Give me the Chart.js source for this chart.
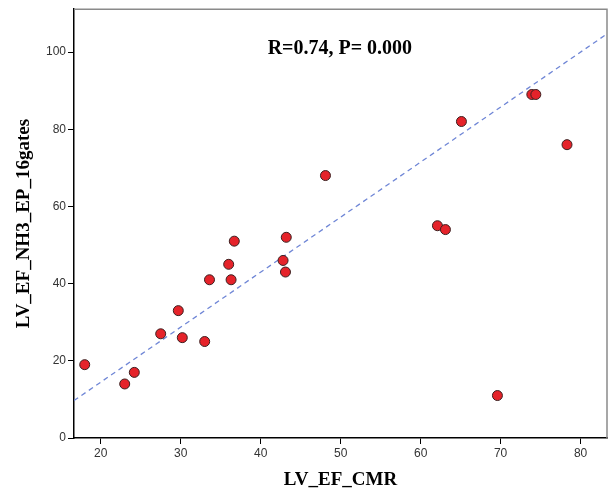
<!DOCTYPE html>
<html>
<head>
<meta charset="utf-8">
<script src="https://cdn.jsdelivr.net/npm/chart.js@4"></script>
<style>
  html, body { margin: 0; padding: 0; background: #fff; overflow: hidden; }
  /* canvas runs 3px past the window so the plot frame ends at x=607 */
  #wrap { width: 613px; height: 493px; position: relative; }
</style>
</head>
<body>
<div id="wrap"><canvas id="chart"></canvas></div>
<script>
// Data
const cmrEF = [18, 23, 24.2, 27.5, 29.7, 30.2, 33, 33.6, 36, 36.3, 36.7, 42.8, 43.1, 43.2,
               48.1, 62.1, 63.1, 65.1, 69.6, 73.9, 74.4, 78.3];
const nh3EF = [19, 14, 17, 27, 33, 26, 25, 41, 45, 41, 51, 46, 43, 52,
               68, 55, 54, 82, 11, 89, 89, 76];

// Dashed fit line end points
const fitX = [16.66, 83.3];
const fitY = [9.7, 104.7];

const xTicks = [20, 30, 40, 50, 60, 70, 80];
const yTicks = [0, 20, 40, 60, 80, 100];

const statText = 'R=0.74, P= 0.000';

// Gray frame on top/right + annotation text
const framePlugin = {
    id: 'frame',
    afterDraw(chart) {
        const { ctx, chartArea: a, scales } = chart;
        ctx.save();
        ctx.strokeStyle = '#8a8a8a';
        ctx.lineWidth = 1.5;
        ctx.beginPath();
        ctx.moveTo(a.left, a.top);
        ctx.lineTo(a.right, a.top);
        ctx.lineTo(a.right, a.bottom);
        ctx.stroke();

        ctx.fillStyle = '#000';
        ctx.font = 'bold 20px "Liberation Serif"';
        ctx.textAlign = 'center';
        ctx.textBaseline = 'middle';
        ctx.fillText(statText, scales.x.getPixelForValue(49.9), scales.y.getPixelForValue(100.8));
        ctx.restore();
    }
};

const tickFont = { family: '"Liberation Sans"', size: 12 };
const titleFont = { family: '"Liberation Serif"', size: 19, weight: 'bold' };

new Chart(document.getElementById('chart'), {
    type: 'scatter',
    data: {
        datasets: [
            {
                data: cmrEF.map((x, i) => ({ x, y: nh3EF[i] })),
                backgroundColor: '#e5232a',
                borderColor: '#3b2020',
                borderWidth: 1,
                pointRadius: 5,
                pointHoverRadius: 5
            },
            {
                type: 'line',
                data: fitX.map((x, i) => ({ x, y: fitY[i] })),
                borderColor: '#6f86d6',
                borderWidth: 1.3,
                borderDash: [5, 4],
                pointRadius: 0,
                fill: false
            }
        ]
    },
    options: {
        responsive: true,
        maintainAspectRatio: false,
        animation: false,
        layout: { padding: { top: 7, right: 0, left: 0, bottom: 0 } },
        plugins: { legend: { display: false }, tooltip: { enabled: false } },
        scales: {
            x: {
                type: 'linear',
                min: 16.66,
                max: 83.3,
                afterBuildTicks: s => { s.ticks = xTicks.map(v => ({ value: v })); },
                afterFit: s => { s.height = 55; },
                border: { color: '#000', width: 1.5 },
                grid: { drawOnChartArea: false, drawTicks: true, tickLength: 6, color: '#000' },
                ticks: { color: '#333', font: tickFont, padding: 2, maxRotation: 0 },
                title: { display: true, text: 'LV_EF_CMR', color: '#000', font: titleFont, padding: { top: 0, bottom: 2 } }
            },
            y: {
                type: 'linear',
                min: 0,
                max: 111.1,
                afterBuildTicks: s => { s.ticks = yTicks.map(v => ({ value: v })); },
                afterFit: s => { s.width = 74; },
                border: { color: '#000', width: 1.5 },
                grid: { drawOnChartArea: false, drawTicks: true, tickLength: 6, color: '#000' },
                ticks: { color: '#333', font: tickFont, padding: 2 },
                title: { display: true, text: 'LV_EF_NH3_EP_16gates', color: '#000', font: titleFont, padding: { top: 13, bottom: 0 } }
            }
        }
    },
    plugins: [framePlugin]
});
</script>
</body>
</html>
